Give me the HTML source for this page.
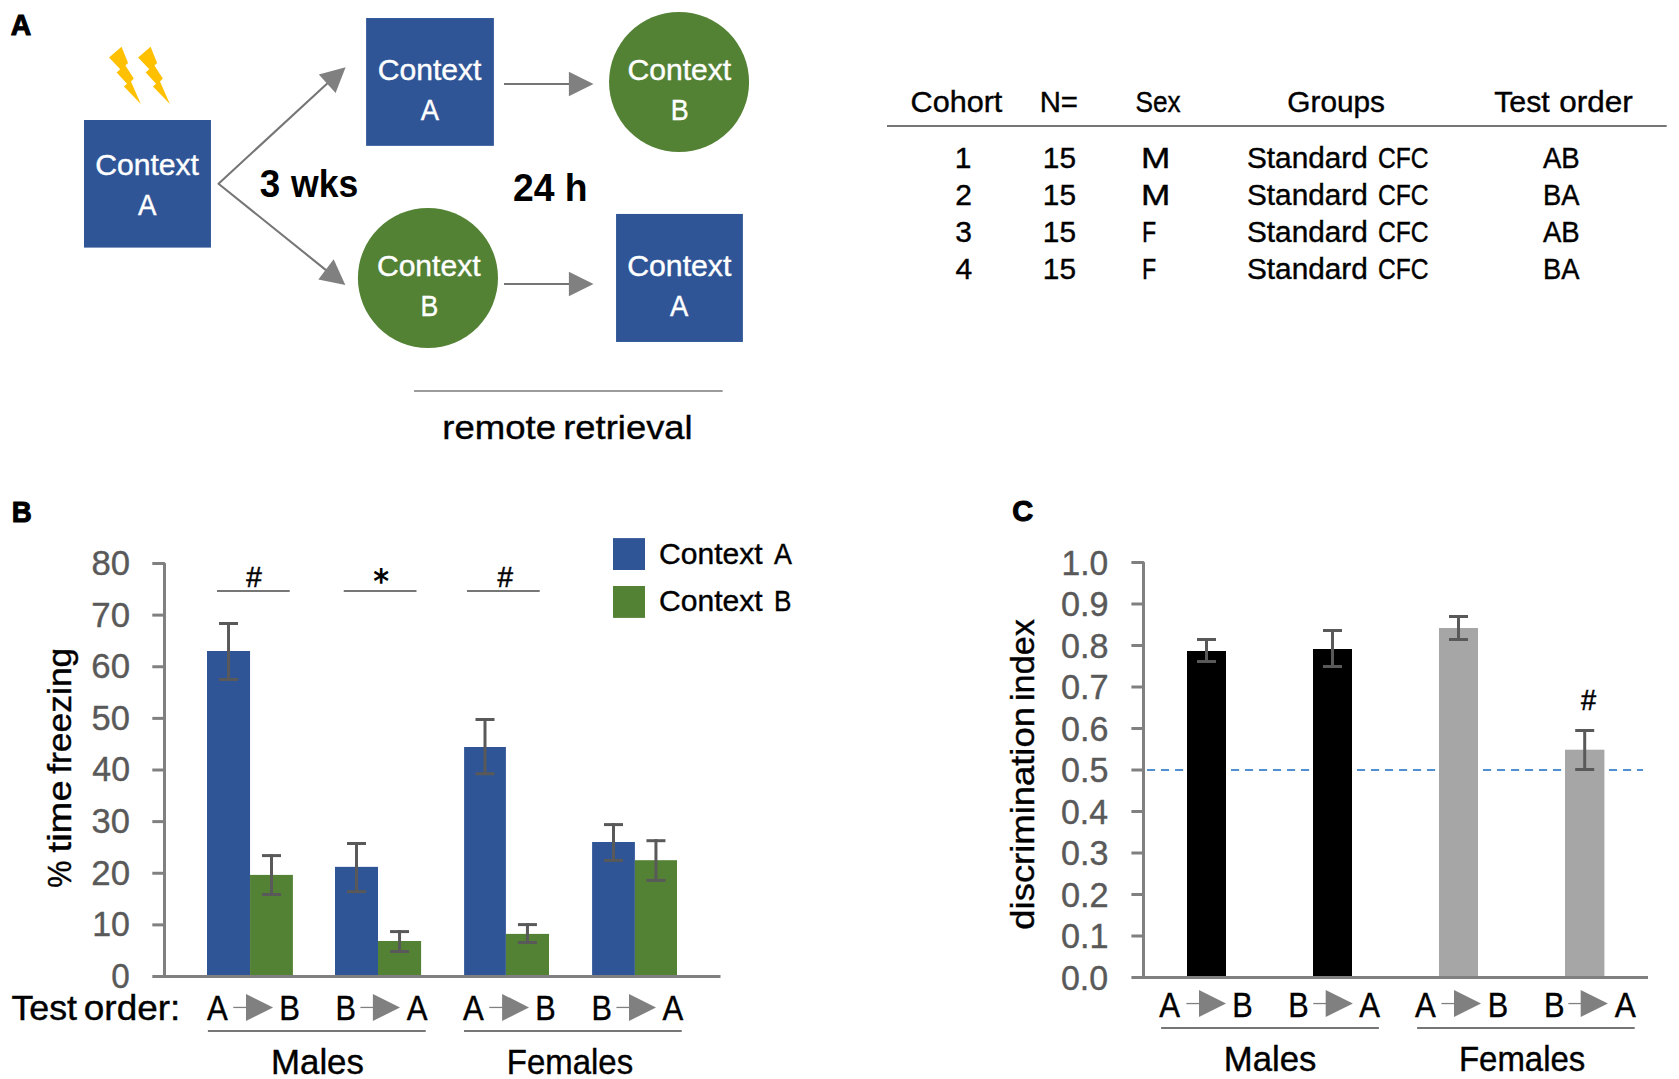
<!DOCTYPE html>
<html lang="en"><head><meta charset="utf-8"><title>Figure</title>
<style>
html,body{margin:0;padding:0;background:#fff;}
body{width:1679px;height:1079px;overflow:hidden;}
svg{display:block;font-family:"Liberation Sans",sans-serif;}
</style></head><body>
<svg width="1679" height="1079" viewBox="0 0 1679 1079">
<rect width="1679" height="1079" fill="#fff"/>
<text transform="translate(10.79,35.30) scale(0.2836,0.3014)" font-size="100" fill="#000" font-weight="700" stroke="#000" stroke-width="3.6" stroke-linejoin="round">A</text>
<text transform="translate(11.70,522.40) scale(0.2770,0.3029)" font-size="100" fill="#000" font-weight="700" stroke="#000" stroke-width="3.6" stroke-linejoin="round">B</text>
<text transform="translate(1012.34,521.10) scale(0.2901,0.2958)" font-size="100" fill="#000" font-weight="700" stroke="#000" stroke-width="3.6" stroke-linejoin="round">C</text>
<rect x="84.00" y="120.00" width="126.95" height="127.60" fill="#2F5597"/>
<rect x="366.10" y="18.04" width="127.80" height="127.81" fill="#2F5597"/>
<circle cx="679.05" cy="82.04" r="70.03" fill="#548235"/>
<circle cx="427.95" cy="277.95" r="70.05" fill="#548235"/>
<rect x="616.06" y="213.94" width="126.84" height="128.01" fill="#2F5597"/>
<text transform="translate(95.19,174.50) scale(1.0039,1)" font-size="30" fill="#fff" stroke="#fff" stroke-width="0.4">Context</text>
<text transform="translate(137.90,214.50) scale(0.9223,1)" font-size="30" fill="#fff" stroke="#fff" stroke-width="0.4">A</text>
<text transform="translate(377.69,80.00) scale(1.0039,1)" font-size="30" fill="#fff" stroke="#fff" stroke-width="0.4">Context</text>
<text transform="translate(420.70,120.00) scale(0.9123,1)" font-size="30" fill="#fff" stroke="#fff" stroke-width="0.4">A</text>
<text transform="translate(627.39,80.00) scale(1.0049,1)" font-size="30" fill="#fff" stroke="#fff" stroke-width="0.4">Context</text>
<text transform="translate(670.75,119.80) scale(0.8972,1)" font-size="30" fill="#fff" stroke="#fff" stroke-width="0.4">B</text>
<text transform="translate(376.89,276.00) scale(1.0039,1)" font-size="30" fill="#fff" stroke="#fff" stroke-width="0.4">Context</text>
<text transform="translate(420.46,315.70) scale(0.8910,1)" font-size="30" fill="#fff" stroke="#fff" stroke-width="0.4">B</text>
<text transform="translate(627.19,276.00) scale(1.0074,1)" font-size="30" fill="#fff" stroke="#fff" stroke-width="0.4">Context</text>
<text transform="translate(670.10,316.00) scale(0.9123,1)" font-size="30" fill="#fff" stroke="#fff" stroke-width="0.4">A</text>
<polygon points="121.54,46.86 109.08,57.46 120.20,69.25 116.65,72.58 127.02,83.70 123.91,86.52 140.81,103.94 130.95,81.48 133.77,78.51 125.39,65.39 128.06,63.02" fill="#FFC000"/>
<polygon points="150.60,46.86 138.14,57.46 149.26,69.25 145.71,72.58 156.08,83.70 152.97,86.52 169.87,103.94 160.01,81.48 162.83,78.51 154.45,65.39 157.12,63.02" fill="#FFC000"/>
<polyline points="327.5,83.2 218.5,183.75 326.6,270.6" fill="none" stroke="#767676" stroke-width="2.1" stroke-linejoin="round"/>
<polygon points="345.60,67.13 318.80,74.58 335.60,93.10" fill="#808080"/>
<polygon points="345.33,285.05 318.35,279.49 333.65,259.19" fill="#808080"/>
<line x1="504.00" y1="84.00" x2="570.00" y2="84.00" stroke="#767676" stroke-width="2"/>
<polygon points="568.90,71.80 593.50,84.00 568.90,96.20" fill="#808080"/>
<line x1="504.00" y1="284.00" x2="570.00" y2="284.00" stroke="#767676" stroke-width="2"/>
<polygon points="568.90,271.80 593.50,284.00 568.90,296.20" fill="#808080"/>
<text transform="translate(259.78,196.70) scale(0.9550,1)" font-size="38.5" fill="#000" font-weight="700">3</text>
<text transform="translate(291.08,196.70) scale(0.9241,1)" font-size="38.5" fill="#000" font-weight="700">wks</text>
<text transform="translate(513.09,201.10) scale(0.9686,1)" font-size="38.5" fill="#000" font-weight="700">24</text>
<text transform="translate(564.69,201.10) scale(0.9686,1)" font-size="38.5" fill="#000" font-weight="700">h</text>
<line x1="414.00" y1="391.00" x2="722.70" y2="391.00" stroke="#9C9C9C" stroke-width="2"/>
<text transform="translate(442.22,438.60) scale(1.0755,1)" font-size="34" fill="#000" stroke="#000" stroke-width="0.4">remote</text>
<text transform="translate(563.23,438.60) scale(1.0708,1)" font-size="34" fill="#000" stroke="#000" stroke-width="0.4">retrieval</text>
<text transform="translate(910.57,111.80) scale(1.0198,1)" font-size="30" fill="#000" stroke="#000" stroke-width="0.4">Cohort</text>
<text transform="translate(1039.65,111.80) scale(0.9787,1)" font-size="30" fill="#000" stroke="#000" stroke-width="0.4">N=</text>
<text transform="translate(1135.52,111.80) scale(0.8743,1)" font-size="30" fill="#000" stroke="#000" stroke-width="0.4">Sex</text>
<text transform="translate(1287.31,111.80) scale(0.9932,1)" font-size="30" fill="#000" stroke="#000" stroke-width="0.4">Groups</text>
<text transform="translate(1494.19,111.80) scale(1.0102,1)" font-size="30" fill="#000" stroke="#000" stroke-width="0.4">Test</text>
<text transform="translate(1559.24,111.80) scale(1.0476,1)" font-size="30" fill="#000" stroke="#000" stroke-width="0.4">order</text>
<line x1="887.00" y1="126.00" x2="1666.70" y2="126.00" stroke="#767676" stroke-width="2"/>
<text transform="translate(954.83,167.50) scale(1.0000,1)" font-size="30" fill="#000" stroke="#000" stroke-width="0.4">1</text>
<text transform="translate(1042.86,167.50) scale(0.9950,1)" font-size="30" fill="#000" stroke="#000" stroke-width="0.4">15</text>
<text transform="translate(1141.08,167.50) scale(1.1741,1)" font-size="30" fill="#000" stroke="#000" stroke-width="0.4">M</text>
<text transform="translate(1246.96,167.50) scale(0.9932,1)" font-size="30" fill="#000" stroke="#000" stroke-width="0.4">Standard</text>
<text transform="translate(1377.97,167.50) scale(0.8206,1)" font-size="30" fill="#000" stroke="#000" stroke-width="0.4">CFC</text>
<text transform="translate(1542.90,167.50) scale(0.9193,1)" font-size="30" fill="#000" stroke="#000" stroke-width="0.4">AB</text>
<text transform="translate(955.27,205.00) scale(1.0000,1)" font-size="30" fill="#000" stroke="#000" stroke-width="0.4">2</text>
<text transform="translate(1042.86,205.00) scale(0.9950,1)" font-size="30" fill="#000" stroke="#000" stroke-width="0.4">15</text>
<text transform="translate(1141.08,205.00) scale(1.1741,1)" font-size="30" fill="#000" stroke="#000" stroke-width="0.4">M</text>
<text transform="translate(1246.96,205.00) scale(0.9932,1)" font-size="30" fill="#000" stroke="#000" stroke-width="0.4">Standard</text>
<text transform="translate(1377.97,205.00) scale(0.8206,1)" font-size="30" fill="#000" stroke="#000" stroke-width="0.4">CFC</text>
<text transform="translate(1542.91,205.00) scale(0.9120,1)" font-size="30" fill="#000" stroke="#000" stroke-width="0.4">BA</text>
<text transform="translate(955.27,241.80) scale(1.0000,1)" font-size="30" fill="#000" stroke="#000" stroke-width="0.4">3</text>
<text transform="translate(1042.86,241.80) scale(0.9950,1)" font-size="30" fill="#000" stroke="#000" stroke-width="0.4">15</text>
<text transform="translate(1142.04,241.80) scale(0.7755,1)" font-size="30" fill="#000" stroke="#000" stroke-width="0.4">F</text>
<text transform="translate(1246.96,241.80) scale(0.9932,1)" font-size="30" fill="#000" stroke="#000" stroke-width="0.4">Standard</text>
<text transform="translate(1377.97,241.80) scale(0.8206,1)" font-size="30" fill="#000" stroke="#000" stroke-width="0.4">CFC</text>
<text transform="translate(1542.90,241.80) scale(0.9193,1)" font-size="30" fill="#000" stroke="#000" stroke-width="0.4">AB</text>
<text transform="translate(955.42,278.60) scale(1.0000,1)" font-size="30" fill="#000" stroke="#000" stroke-width="0.4">4</text>
<text transform="translate(1042.86,278.60) scale(0.9950,1)" font-size="30" fill="#000" stroke="#000" stroke-width="0.4">15</text>
<text transform="translate(1142.04,278.60) scale(0.7755,1)" font-size="30" fill="#000" stroke="#000" stroke-width="0.4">F</text>
<text transform="translate(1246.96,278.60) scale(0.9932,1)" font-size="30" fill="#000" stroke="#000" stroke-width="0.4">Standard</text>
<text transform="translate(1377.97,278.60) scale(0.8206,1)" font-size="30" fill="#000" stroke="#000" stroke-width="0.4">CFC</text>
<text transform="translate(1542.91,278.60) scale(0.9120,1)" font-size="30" fill="#000" stroke="#000" stroke-width="0.4">BA</text>
<rect x="207.00" y="651.00" width="43.05" height="325.00" fill="#2F5597"/>
<rect x="250.05" y="874.90" width="42.85" height="101.10" fill="#548235"/>
<line x1="228.53" y1="622.00" x2="228.53" y2="681.00" stroke="#595959" stroke-width="3"/>
<line x1="219.03" y1="623.50" x2="238.03" y2="623.50" stroke="#595959" stroke-width="3"/>
<line x1="219.03" y1="679.50" x2="238.03" y2="679.50" stroke="#595959" stroke-width="3"/>
<line x1="271.48" y1="854.10" x2="271.48" y2="896.00" stroke="#595959" stroke-width="3"/>
<line x1="261.98" y1="855.60" x2="280.98" y2="855.60" stroke="#595959" stroke-width="3"/>
<line x1="261.98" y1="894.50" x2="280.98" y2="894.50" stroke="#595959" stroke-width="3"/>
<rect x="335.00" y="866.85" width="43.00" height="109.15" fill="#2F5597"/>
<rect x="378.00" y="941.00" width="43.10" height="35.00" fill="#548235"/>
<line x1="356.50" y1="842.00" x2="356.50" y2="893.10" stroke="#595959" stroke-width="3"/>
<line x1="347.00" y1="843.50" x2="366.00" y2="843.50" stroke="#595959" stroke-width="3"/>
<line x1="347.00" y1="891.60" x2="366.00" y2="891.60" stroke="#595959" stroke-width="3"/>
<line x1="399.55" y1="930.10" x2="399.55" y2="953.00" stroke="#595959" stroke-width="3"/>
<line x1="390.05" y1="931.60" x2="409.05" y2="931.60" stroke="#595959" stroke-width="3"/>
<line x1="390.05" y1="951.50" x2="409.05" y2="951.50" stroke="#595959" stroke-width="3"/>
<rect x="464.10" y="747.00" width="41.80" height="229.00" fill="#2F5597"/>
<rect x="505.90" y="933.90" width="43.10" height="42.10" fill="#548235"/>
<line x1="485.00" y1="718.00" x2="485.00" y2="775.20" stroke="#595959" stroke-width="3"/>
<line x1="475.50" y1="719.50" x2="494.50" y2="719.50" stroke="#595959" stroke-width="3"/>
<line x1="475.50" y1="773.70" x2="494.50" y2="773.70" stroke="#595959" stroke-width="3"/>
<line x1="527.45" y1="923.10" x2="527.45" y2="944.00" stroke="#595959" stroke-width="3"/>
<line x1="517.95" y1="924.60" x2="536.95" y2="924.60" stroke="#595959" stroke-width="3"/>
<line x1="517.95" y1="942.50" x2="536.95" y2="942.50" stroke="#595959" stroke-width="3"/>
<rect x="592.10" y="842.00" width="42.80" height="134.00" fill="#2F5597"/>
<rect x="634.90" y="860.20" width="42.10" height="115.80" fill="#548235"/>
<line x1="613.50" y1="823.10" x2="613.50" y2="861.90" stroke="#595959" stroke-width="3"/>
<line x1="604.00" y1="824.60" x2="623.00" y2="824.60" stroke="#595959" stroke-width="3"/>
<line x1="604.00" y1="860.40" x2="623.00" y2="860.40" stroke="#595959" stroke-width="3"/>
<line x1="655.95" y1="839.20" x2="655.95" y2="881.90" stroke="#595959" stroke-width="3"/>
<line x1="646.45" y1="840.70" x2="665.45" y2="840.70" stroke="#595959" stroke-width="3"/>
<line x1="646.45" y1="880.40" x2="665.45" y2="880.40" stroke="#595959" stroke-width="3"/>
<path d="M152.3,563.5 H164.5 V978" fill="none" stroke="#808080" stroke-width="3" stroke-linejoin="bevel"/>
<line x1="152.30" y1="976.50" x2="720.50" y2="976.50" stroke="#808080" stroke-width="3"/>
<line x1="152.30" y1="615.12" x2="164.50" y2="615.12" stroke="#808080" stroke-width="3"/>
<line x1="152.30" y1="666.75" x2="164.50" y2="666.75" stroke="#808080" stroke-width="3"/>
<line x1="152.30" y1="718.38" x2="164.50" y2="718.38" stroke="#808080" stroke-width="3"/>
<line x1="152.30" y1="770.00" x2="164.50" y2="770.00" stroke="#808080" stroke-width="3"/>
<line x1="152.30" y1="821.62" x2="164.50" y2="821.62" stroke="#808080" stroke-width="3"/>
<line x1="152.30" y1="873.25" x2="164.50" y2="873.25" stroke="#808080" stroke-width="3"/>
<line x1="152.30" y1="924.88" x2="164.50" y2="924.88" stroke="#808080" stroke-width="3"/>
<text transform="translate(91.44,574.90) scale(1.0046,1)" font-size="34.5" fill="#595959" stroke="#595959" stroke-width="0.4">80</text>
<text transform="translate(91.26,626.52) scale(1.0095,1)" font-size="34.5" fill="#595959" stroke="#595959" stroke-width="0.4">70</text>
<text transform="translate(91.26,678.15) scale(1.0095,1)" font-size="34.5" fill="#595959" stroke="#595959" stroke-width="0.4">60</text>
<text transform="translate(91.62,729.77) scale(0.9998,1)" font-size="34.5" fill="#595959" stroke="#595959" stroke-width="0.4">50</text>
<text transform="translate(92.32,781.40) scale(0.9808,1)" font-size="34.5" fill="#595959" stroke="#595959" stroke-width="0.4">40</text>
<text transform="translate(91.62,833.02) scale(0.9998,1)" font-size="34.5" fill="#595959" stroke="#595959" stroke-width="0.4">30</text>
<text transform="translate(91.26,884.65) scale(1.0095,1)" font-size="34.5" fill="#595959" stroke="#595959" stroke-width="0.4">20</text>
<text transform="translate(92.15,936.27) scale(0.9855,1)" font-size="34.5" fill="#595959" stroke="#595959" stroke-width="0.4">10</text>
<text transform="translate(111.27,987.90) scale(0.9662,1)" font-size="34.5" fill="#595959" stroke="#595959" stroke-width="0.4">0</text>
<text transform="translate(70.80,887.67) rotate(-90) scale(0.8967,1)" font-size="34" fill="#000" stroke="#000" stroke-width="0.4">%</text>
<text transform="translate(70.80,852.47) rotate(-90) scale(1.1234,1)" font-size="34" fill="#000" stroke="#000" stroke-width="0.4">time</text>
<text transform="translate(70.80,773.83) rotate(-90) scale(1.0436,1)" font-size="34" fill="#000" stroke="#000" stroke-width="0.4">freezing</text>
<line x1="217.00" y1="591.00" x2="289.70" y2="591.00" stroke="#767676" stroke-width="2"/>
<line x1="343.75" y1="591.00" x2="416.50" y2="591.00" stroke="#767676" stroke-width="2"/>
<line x1="467.00" y1="591.00" x2="539.70" y2="591.00" stroke="#767676" stroke-width="2"/>
<text transform="translate(246.36,586.60) scale(0.2789,0.2964)" font-size="100" fill="#000" stroke="#000" stroke-width="2">#</text>
<text transform="translate(497.56,586.60) scale(0.2789,0.2964)" font-size="100" fill="#000" stroke="#000" stroke-width="2">#</text>
<text transform="translate(373.30,593.18) scale(0.3021,0.3376)" font-size="100" fill="#000" font-weight="700" font-family="DejaVu Sans, sans-serif">*</text>
<rect x="613.00" y="538.10" width="32.00" height="31.90" fill="#2F5597"/>
<rect x="613.00" y="586.00" width="32.00" height="31.90" fill="#548235"/>
<text transform="translate(659.10,563.75) scale(1.0020,1)" font-size="30" fill="#000" stroke="#000" stroke-width="0.4">Context</text>
<text transform="translate(774.00,563.75) scale(0.8972,1)" font-size="30" fill="#000" stroke="#000" stroke-width="0.4">A</text>
<text transform="translate(659.10,610.60) scale(1.0020,1)" font-size="30" fill="#000" stroke="#000" stroke-width="0.4">Context</text>
<text transform="translate(773.91,610.60) scale(0.8723,1)" font-size="30" fill="#000" stroke="#000" stroke-width="0.4">B</text>
<text transform="translate(11.38,1020.00) scale(1.0374,1)" font-size="34.5" fill="#000" stroke="#000" stroke-width="0.4">Test</text>
<text transform="translate(83.82,1020.00) scale(1.0706,1)" font-size="34.5" fill="#000" stroke="#000" stroke-width="0.4">order:</text>
<text transform="translate(206.90,1020.00) scale(0.9023,1)" font-size="34.5" fill="#000" stroke="#000" stroke-width="0.4">A</text>
<text transform="translate(279.22,1020.00) scale(0.8994,1)" font-size="34.5" fill="#000" stroke="#000" stroke-width="0.4">B</text>
<line x1="233.30" y1="1007.45" x2="247.00" y2="1007.45" stroke="#808080" stroke-width="1.3"/>
<polygon points="246.00,993.90 273.10,1007.45 246.00,1021.00" fill="#808080"/>
<text transform="translate(335.45,1020.00) scale(0.8885,1)" font-size="34.5" fill="#000" stroke="#000" stroke-width="0.4">B</text>
<text transform="translate(406.70,1020.00) scale(0.9023,1)" font-size="34.5" fill="#000" stroke="#000" stroke-width="0.4">A</text>
<line x1="360.40" y1="1007.45" x2="373.90" y2="1007.45" stroke="#808080" stroke-width="1.3"/>
<polygon points="372.90,993.90 400.00,1007.45 372.90,1021.00" fill="#808080"/>
<text transform="translate(462.90,1020.00) scale(0.9023,1)" font-size="34.5" fill="#000" stroke="#000" stroke-width="0.4">A</text>
<text transform="translate(535.15,1020.00) scale(0.8885,1)" font-size="34.5" fill="#000" stroke="#000" stroke-width="0.4">B</text>
<line x1="489.30" y1="1007.45" x2="503.10" y2="1007.45" stroke="#808080" stroke-width="1.3"/>
<polygon points="502.10,993.90 529.00,1007.45 502.10,1021.00" fill="#808080"/>
<text transform="translate(591.45,1020.00) scale(0.8885,1)" font-size="34.5" fill="#000" stroke="#000" stroke-width="0.4">B</text>
<text transform="translate(662.60,1020.00) scale(0.9023,1)" font-size="34.5" fill="#000" stroke="#000" stroke-width="0.4">A</text>
<line x1="616.40" y1="1007.45" x2="630.00" y2="1007.45" stroke="#808080" stroke-width="1.3"/>
<polygon points="629.00,993.90 656.00,1007.45 629.00,1021.00" fill="#808080"/>
<line x1="207.90" y1="1031.00" x2="425.70" y2="1031.00" stroke="#767676" stroke-width="2"/>
<line x1="464.00" y1="1031.00" x2="681.70" y2="1031.00" stroke="#767676" stroke-width="2"/>
<text transform="translate(271.01,1074.30) scale(1.0097,1)" font-size="34.5" fill="#000" stroke="#000" stroke-width="0.4">Males</text>
<text transform="translate(506.87,1074.30) scale(0.9545,1)" font-size="34.5" fill="#000" stroke="#000" stroke-width="0.4">Females</text>
<line x1="1147.00" y1="770.00" x2="1643.00" y2="770.00" stroke="#5090D0" stroke-width="2" stroke-dasharray="8.1 5.9"/>
<rect x="1187.00" y="651.00" width="39.00" height="326.00" fill="#000"/>
<line x1="1206.50" y1="638.00" x2="1206.50" y2="663.00" stroke="#595959" stroke-width="3"/>
<line x1="1197.00" y1="639.50" x2="1216.00" y2="639.50" stroke="#595959" stroke-width="3"/>
<line x1="1197.00" y1="661.50" x2="1216.00" y2="661.50" stroke="#595959" stroke-width="3"/>
<rect x="1313.00" y="649.00" width="39.00" height="328.00" fill="#000"/>
<line x1="1332.50" y1="629.00" x2="1332.50" y2="668.00" stroke="#595959" stroke-width="3"/>
<line x1="1323.00" y1="630.50" x2="1342.00" y2="630.50" stroke="#595959" stroke-width="3"/>
<line x1="1323.00" y1="666.50" x2="1342.00" y2="666.50" stroke="#595959" stroke-width="3"/>
<rect x="1439.00" y="628.00" width="39.00" height="349.00" fill="#A6A6A6"/>
<line x1="1458.50" y1="615.00" x2="1458.50" y2="641.00" stroke="#595959" stroke-width="3"/>
<line x1="1449.00" y1="616.50" x2="1468.00" y2="616.50" stroke="#595959" stroke-width="3"/>
<line x1="1449.00" y1="639.50" x2="1468.00" y2="639.50" stroke="#595959" stroke-width="3"/>
<rect x="1565.00" y="749.70" width="39.40" height="227.30" fill="#A6A6A6"/>
<line x1="1584.70" y1="729.00" x2="1584.70" y2="771.00" stroke="#595959" stroke-width="3"/>
<line x1="1575.20" y1="730.50" x2="1594.20" y2="730.50" stroke="#595959" stroke-width="3"/>
<line x1="1575.20" y1="769.50" x2="1594.20" y2="769.50" stroke="#595959" stroke-width="3"/>
<path d="M1131.4,562.5 H1143.5 V979" fill="none" stroke="#808080" stroke-width="3" stroke-linejoin="bevel"/>
<line x1="1131.40" y1="977.50" x2="1648.00" y2="977.50" stroke="#808080" stroke-width="3"/>
<line x1="1131.40" y1="604.00" x2="1143.50" y2="604.00" stroke="#808080" stroke-width="3"/>
<line x1="1131.40" y1="645.50" x2="1143.50" y2="645.50" stroke="#808080" stroke-width="3"/>
<line x1="1131.40" y1="687.00" x2="1143.50" y2="687.00" stroke="#808080" stroke-width="3"/>
<line x1="1131.40" y1="728.50" x2="1143.50" y2="728.50" stroke="#808080" stroke-width="3"/>
<line x1="1131.40" y1="770.00" x2="1143.50" y2="770.00" stroke="#808080" stroke-width="3"/>
<line x1="1131.40" y1="811.50" x2="1143.50" y2="811.50" stroke="#808080" stroke-width="3"/>
<line x1="1131.40" y1="853.00" x2="1143.50" y2="853.00" stroke="#808080" stroke-width="3"/>
<line x1="1131.40" y1="894.50" x2="1143.50" y2="894.50" stroke="#808080" stroke-width="3"/>
<line x1="1131.40" y1="936.00" x2="1143.50" y2="936.00" stroke="#808080" stroke-width="3"/>
<text transform="translate(1061.48,574.50) scale(0.9737,1)" font-size="34.5" fill="#595959" stroke="#595959" stroke-width="0.4">1.0</text>
<text transform="translate(1060.93,616.00) scale(0.9928,1)" font-size="34.5" fill="#595959" stroke="#595959" stroke-width="0.4">0.9</text>
<text transform="translate(1060.94,657.50) scale(0.9890,1)" font-size="34.5" fill="#595959" stroke="#595959" stroke-width="0.4">0.8</text>
<text transform="translate(1060.92,699.00) scale(0.9967,1)" font-size="34.5" fill="#595959" stroke="#595959" stroke-width="0.4">0.7</text>
<text transform="translate(1060.94,740.50) scale(0.9890,1)" font-size="34.5" fill="#595959" stroke="#595959" stroke-width="0.4">0.6</text>
<text transform="translate(1060.94,782.00) scale(0.9890,1)" font-size="34.5" fill="#595959" stroke="#595959" stroke-width="0.4">0.5</text>
<text transform="translate(1060.95,823.50) scale(0.9816,1)" font-size="34.5" fill="#595959" stroke="#595959" stroke-width="0.4">0.4</text>
<text transform="translate(1060.94,865.00) scale(0.9890,1)" font-size="34.5" fill="#595959" stroke="#595959" stroke-width="0.4">0.3</text>
<text transform="translate(1060.92,906.50) scale(0.9967,1)" font-size="34.5" fill="#595959" stroke="#595959" stroke-width="0.4">0.2</text>
<text transform="translate(1060.93,948.00) scale(0.9928,1)" font-size="34.5" fill="#595959" stroke="#595959" stroke-width="0.4">0.1</text>
<text transform="translate(1060.94,989.50) scale(0.9853,1)" font-size="34.5" fill="#595959" stroke="#595959" stroke-width="0.4">0.0</text>
<text transform="translate(1034.20,929.66) rotate(-90) scale(1.0712,1)" font-size="34" fill="#000" stroke="#000" stroke-width="0.4">discrimination</text>
<text transform="translate(1034.20,701.03) rotate(-90) scale(1.0100,1)" font-size="34" fill="#000" stroke="#000" stroke-width="0.4">index</text>
<text transform="translate(1580.96,709.70) scale(0.2716,0.2905)" font-size="100" fill="#000" stroke="#000" stroke-width="2">#</text>
<text transform="translate(1159.30,1016.70) scale(0.9023,1)" font-size="34.5" fill="#000" stroke="#000" stroke-width="0.4">A</text>
<text transform="translate(1232.15,1016.70) scale(0.8885,1)" font-size="34.5" fill="#000" stroke="#000" stroke-width="0.4">B</text>
<line x1="1186.40" y1="1003.55" x2="1200.00" y2="1003.55" stroke="#808080" stroke-width="1.3"/>
<polygon points="1199.00,990.00 1226.00,1003.55 1199.00,1017.10" fill="#808080"/>
<text transform="translate(1288.25,1016.70) scale(0.8885,1)" font-size="34.5" fill="#000" stroke="#000" stroke-width="0.4">B</text>
<text transform="translate(1359.30,1016.70) scale(0.9023,1)" font-size="34.5" fill="#000" stroke="#000" stroke-width="0.4">A</text>
<line x1="1313.30" y1="1003.55" x2="1326.70" y2="1003.55" stroke="#808080" stroke-width="1.3"/>
<polygon points="1325.70,990.00 1352.90,1003.55 1325.70,1017.10" fill="#808080"/>
<text transform="translate(1415.00,1016.70) scale(0.9023,1)" font-size="34.5" fill="#000" stroke="#000" stroke-width="0.4">A</text>
<text transform="translate(1487.85,1016.70) scale(0.8885,1)" font-size="34.5" fill="#000" stroke="#000" stroke-width="0.4">B</text>
<line x1="1441.40" y1="1003.55" x2="1455.00" y2="1003.55" stroke="#808080" stroke-width="1.3"/>
<polygon points="1454.00,990.00 1481.00,1003.55 1454.00,1017.10" fill="#808080"/>
<text transform="translate(1543.93,1016.70) scale(0.8939,1)" font-size="34.5" fill="#000" stroke="#000" stroke-width="0.4">B</text>
<text transform="translate(1614.70,1016.70) scale(0.9153,1)" font-size="34.5" fill="#000" stroke="#000" stroke-width="0.4">A</text>
<line x1="1568.30" y1="1003.55" x2="1581.70" y2="1003.55" stroke="#808080" stroke-width="1.3"/>
<polygon points="1580.70,990.00 1607.90,1003.55 1580.70,1017.10" fill="#808080"/>
<line x1="1161.10" y1="1028.00" x2="1378.90" y2="1028.00" stroke="#767676" stroke-width="2"/>
<line x1="1417.10" y1="1028.00" x2="1634.70" y2="1028.00" stroke="#767676" stroke-width="2"/>
<text transform="translate(1223.82,1071.10) scale(1.0063,1)" font-size="34.5" fill="#000" stroke="#000" stroke-width="0.4">Males</text>
<text transform="translate(1458.96,1071.10) scale(0.9553,1)" font-size="34.5" fill="#000" stroke="#000" stroke-width="0.4">Females</text>
</svg>
</body></html>
